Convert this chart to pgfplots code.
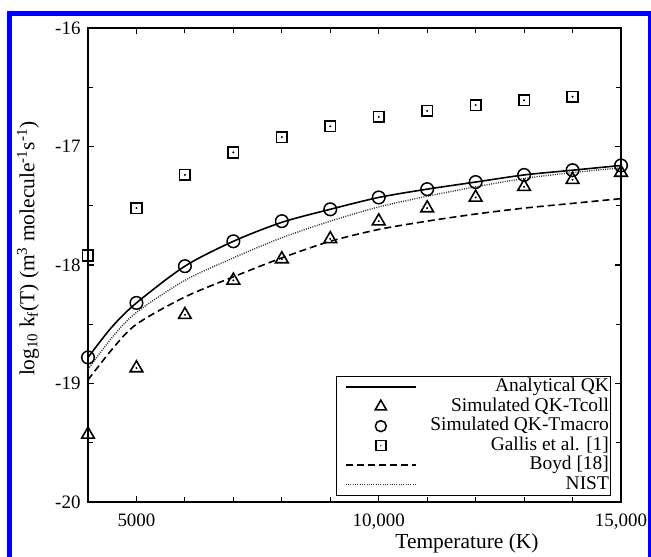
\documentclass[border=0pt]{standalone}
\usepackage{fontspec}
\setmainfont{Liberation Serif}
\usepackage{pgfplots}
\pgfplotsset{compat=1.18}
\begin{document}
\begin{tikzpicture}
\path[use as bounding box] (-88bp,-55bp) rectangle (563bp,502bp);
\draw[color={rgb,255:red,0;green,0;blue,255}, line width=5bp] (-78.5bp,-80bp) -- (-78.5bp,488bp) -- (562.5bp,488bp) -- (562.5bp,-80bp);
\begin{axis}[
  at={(0,0)}, anchor=south west,
  scale only axis, width=533bp, height=474bp,
  xmin=4000, xmax=15000, ymin=-20, ymax=-16,
  clip=false,
  scaled x ticks=false,
  axis line style={line width=1.4bp},
  xtick={5000,10000,15000}, xticklabels={5000,{10,000},{15,000}},
  minor xtick={4000,6000,7000,8000,9000,11000,12000,13000,14000},
  ytick={-20,-19,-18,-17,-16}, yticklabels={-20,-19,-18,-17,-16},
  minor ytick={-19.5,-18.5,-17.5,-16.5},
  tick align=inside,
  major tick length=6bp, minor tick length=5bp,
  tick style={line width=1.1bp, black},
  /pgf/number format/assume math mode=true,
  ticklabel style={font=\fontsize{19}{20}\selectfont},
  xticklabel style={yshift=-8bp},
  yticklabel style={xshift=-4bp},
  xlabel={Temperature (K)},
  ylabel={log\textsubscript{10} k\textsubscript{f}(T) (m\textsuperscript{3} molecule\textsuperscript{-1}s\textsuperscript{-1})},
  label style={font=\fontsize{21.5}{22}\selectfont},
  xlabel style={at={(axis description cs:0.711,-0.0865)}, anchor=center},
  ylabel style={at={(axis description cs:-0.1126,0.534)}, anchor=center},
  legend cell align=right,
  legend style={at={(1,0)}, anchor=south east, xshift=-10bp, yshift=6bp,
    draw=black, line width=1.2bp, fill=white, inner xsep=1bp, inner ysep=1bp,
    font=\fontsize{19.5}{20}\selectfont,
    nodes={inner sep=0.5bp, text height=14bp, text depth=4.5bp}, row sep=0bp},
]
\addplot[black, line width=1.6bp, smooth, tension=0.5,
  legend image code/.code={\path[draw=none] (0bp,0bp) -- (92bp,0bp); \draw[black, line width=1.6bp] (8bp,0bp) -- (78bp,0bp);}]
  coordinates {(4000,-18.78)(4500,-18.52)(5000,-18.32)(6000,-18.01)(7000,-17.80)(8000,-17.64)(9000,-17.53)(10000,-17.43)(11000,-17.36)(12000,-17.30)(13000,-17.24)(14000,-17.20)(15000,-17.16)};
\addlegendentry{Analytical QK}
\addplot[only marks, mark=triangle, mark size=7.3bp, mark options={black, line width=1.6bp},
  legend image code/.code={\path[draw=none] (0bp,0bp) -- (92bp,0bp); \draw[black, line width=1.6bp, mark=triangle, mark size=6.5bp] plot coordinates {(43bp,0bp)};}]
  coordinates {(4000,-19.43)(5000,-18.87)(6000,-18.42)(7000,-18.13)(8000,-17.95)(9000,-17.78)(10000,-17.63)(11000,-17.52)(12000,-17.43)(13000,-17.34)(14000,-17.28)(15000,-17.22)};
\addlegendentry{Simulated QK-Tcoll}
\addplot[only marks, mark=o, mark size=6.3bp, mark options={black, line width=1.5bp},
  legend image code/.code={\path[draw=none] (0bp,0bp) -- (92bp,0bp); \draw[black, line width=1.5bp, mark=o, mark size=5.5bp] plot coordinates {(43bp,0bp)};}]
  coordinates {(4000,-18.78)(5000,-18.32)(6000,-18.01)(7000,-17.80)(8000,-17.63)(9000,-17.53)(10000,-17.43)(11000,-17.36)(12000,-17.30)(13000,-17.24)(14000,-17.20)(15000,-17.16)};
\addlegendentry{Simulated QK-Tmacro}
\addplot[only marks, mark=square, mark size=5.3bp, mark options={black, line width=1.6bp},
  legend image code/.code={\path[draw=none] (0bp,0bp) -- (92bp,0bp); \draw[black, line width=1.6bp, mark=square, mark size=5bp] plot coordinates {(43bp,0bp)}; \fill[black, draw=none] (43bp,0bp) circle (0.7bp);}]
  coordinates {(4000,-17.92)(5000,-17.52)(6000,-17.24)(7000,-17.05)(8000,-16.92)(9000,-16.83)(10000,-16.75)(11000,-16.70)(12000,-16.65)(13000,-16.61)(14000,-16.58)};
\addlegendentry{Gallis et al. [1]}
\addplot[black, line width=1.6bp, dash pattern=on 7bp off 4bp, smooth, tension=0.5,
  legend image code/.code={\path[draw=none] (0bp,0bp) -- (92bp,0bp); \draw[black, line width=1.6bp, dash pattern=on 7bp off 4bp] (8bp,0bp) -- (78bp,0bp);}]
  coordinates {(4000,-18.97)(4500,-18.71)(5000,-18.50)(6000,-18.27)(7000,-18.10)(8000,-17.94)(9000,-17.80)(10000,-17.70)(11000,-17.63)(12000,-17.57)(13000,-17.52)(14000,-17.48)(15000,-17.44)};
\addlegendentry{Boyd [18]}
\addplot[black!80, line width=1.4bp, dash pattern=on 1bp off 1.3bp, smooth, tension=0.5,
  legend image code/.code={\path[draw=none] (0bp,0bp) -- (92bp,0bp); \draw[black!80, line width=1.4bp, dash pattern=on 1bp off 1.3bp] (8bp,0bp) -- (78bp,0bp);}]
  coordinates {(4000,-18.88)(4500,-18.61)(5000,-18.40)(6000,-18.13)(7000,-17.94)(8000,-17.77)(9000,-17.63)(10000,-17.51)(11000,-17.42)(12000,-17.34)(13000,-17.27)(14000,-17.22)(15000,-17.18)};
\addlegendentry{NIST}
\addplot[forget plot, only marks, mark=*, mark size=0.8bp, black]
  coordinates {(4000,-17.92)(5000,-17.52)(6000,-17.24)(7000,-17.05)(8000,-16.92)(9000,-16.83)(10000,-16.75)(11000,-16.70)(12000,-16.65)(13000,-16.61)(14000,-16.58)};
\addplot[forget plot, only marks, mark=*, mark size=0.8bp, black]
  coordinates {(4000,-19.43)(5000,-18.87)(6000,-18.42)(7000,-18.13)(8000,-17.95)(9000,-17.78)(10000,-17.63)(11000,-17.52)(12000,-17.43)(13000,-17.34)(14000,-17.28)(15000,-17.22)};
\end{axis}
\end{tikzpicture}
\end{document}
